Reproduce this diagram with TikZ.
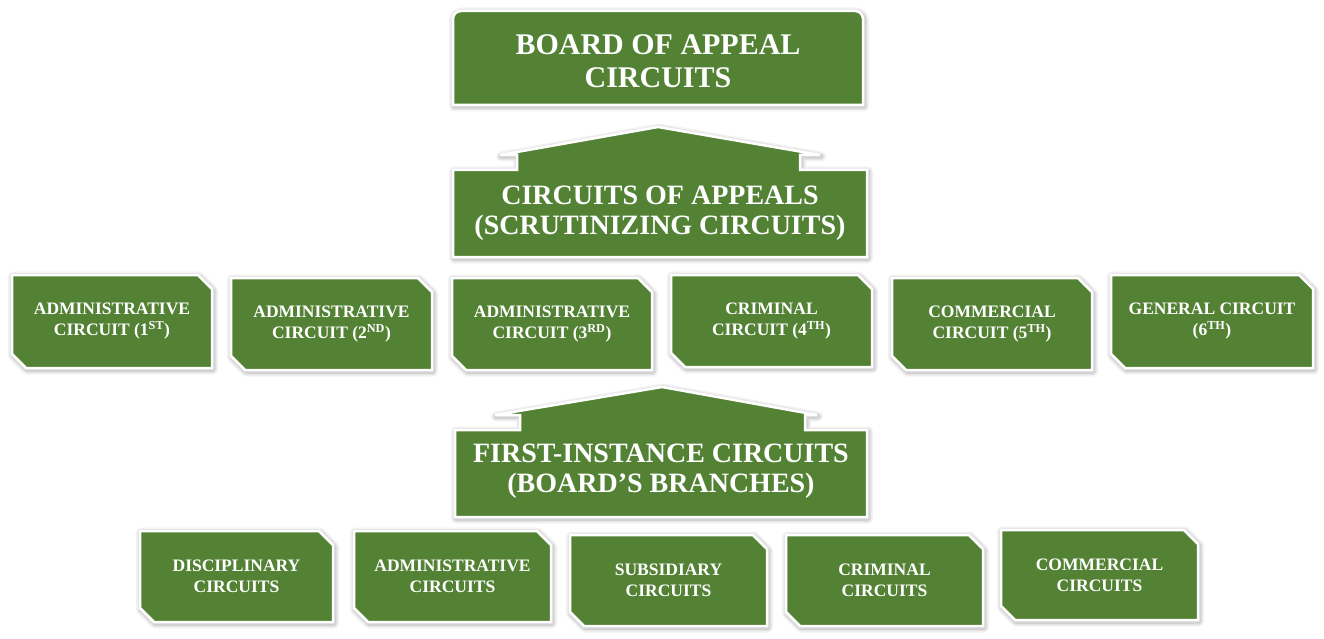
\documentclass[tikz,border=0pt]{standalone}
\usepackage{fontspec}
\setmainfont{Liberation Serif}
\definecolor{boxgreen}{RGB}{84,130,53}
\definecolor{boxdark}{RGB}{62,100,38}
\newcommand{\snipbox}[6]{%
  \path[shapestyle] (#1,#2) -- ({#3-14},#2) -- (#3,{#2+14}) -- (#3,#4) -- ({#1+14},#4) -- (#1,{#4-14}) -- cycle;
  \node[smalltext] (#5) at ({(#1+#3)/2},{(#2+#4)/2}) {#6};
}
\begin{document}
\begin{tikzpicture}[x=1pt,y=-1pt,
  halo/.style={preaction={draw=black, opacity=#1, line join=round,
      transform canvas={shift={(1pt,-1.5pt)}}}},
  shapestyle/.style={fill=boxgreen, draw=white, line width=2.5pt, line join=miter,
    preaction={draw=black, opacity=0.05, line width=10pt, line join=round, transform canvas={shift={(1pt,-1.5pt)}}},
    preaction={draw=black, opacity=0.06, line width=7pt, line join=round, transform canvas={shift={(1pt,-1.5pt)}}},
    preaction={draw=black, opacity=0.08, line width=4.5pt, line join=round, transform canvas={shift={(1pt,-1.5pt)}}}},
  bigtext/.style={text=white, font=\fontsize{28}{30}\selectfont\bfseries, align=center, inner sep=0pt},
  toptext/.style={text=white, font=\fontsize{30}{33}\selectfont\bfseries, align=center, inner sep=0pt},
  smalltext/.style={text=white, font=\fontsize{17.5}{21}\selectfont\bfseries, align=center, inner sep=0pt}]
\useasboundingbox (0,0) rectangle (1324,639);

% top box
\path[shapestyle] (453,105) [rounded corners=8pt] -- (453,11) -- (863,11) [sharp corners] -- (863,105) -- cycle;
\node[toptext] (board) at (658,61) {BOARD OF APPEAL\\CIRCUITS};

% circuits of appeals house
\path[shapestyle] (453,257) -- (453,170) -- (517,170) -- (517,155) -- (500,155) -- (658,127) -- (820,155) -- (800,155) -- (800,170) -- (867,170) -- (867,257) -- cycle;
\node[bigtext] (appeals) at (660,213) {CIRCUITS OF APPEALS\\(SCRUTINIZING CIRCUITS)};

% row 1
\snipbox{12}{275}{212}{368}{a1}{ADMINISTRATIVE\\CIRCUIT (1\textsuperscript{ST})}
\snipbox{231}{278}{432}{370}{a2}{ADMINISTRATIVE\\CIRCUIT (2\textsuperscript{ND})}
\snipbox{452}{278}{652}{370}{a3}{ADMINISTRATIVE\\CIRCUIT (3\textsuperscript{RD})}
\snipbox{671}{275}{872}{367}{a4}{CRIMINAL\\CIRCUIT (4\textsuperscript{TH})}
\snipbox{892}{278}{1092}{370}{a5}{COMMERCIAL\\CIRCUIT (5\textsuperscript{TH})}
\snipbox{1111}{275}{1313}{368}{a6}{GENERAL CIRCUIT\\(6\textsuperscript{TH})}

% first instance house
\path[shapestyle] (455,517) -- (455,430) -- (520,430) -- (520,415) -- (495,415) -- (662,387) -- (817,415) -- (805,415) -- (805,430) -- (867,430) -- (867,517) -- cycle;
\node[bigtext] (first) at (661,471) {FIRST-INSTANCE CIRCUITS\\(BOARD'S BRANCHES)};

% row 2
\snipbox{140}{531}{333}{622}{b1}{DISCIPLINARY\\CIRCUITS}
\snipbox{354}{531}{551}{622}{b2}{ADMINISTRATIVE\\CIRCUITS}
\snipbox{570}{535}{767}{626}{b3}{SUBSIDIARY\\CIRCUITS}
\snipbox{786}{535}{983}{626}{b4}{CRIMINAL\\CIRCUITS}
\snipbox{1001}{530}{1198}{620}{b5}{COMMERCIAL\\CIRCUITS}
\end{tikzpicture}
\end{document}
